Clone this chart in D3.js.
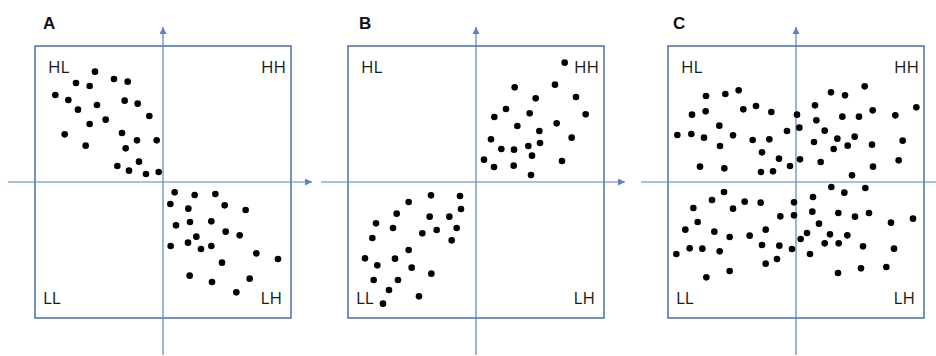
<!DOCTYPE html>
<html>
<head>
<meta charset="utf-8">
<script src="https://cdn.jsdelivr.net/npm/d3@7"></script>
<style>
  html, body { margin: 0; padding: 0; background: #fff; }
  svg { display: block; }
  .quad { font-family: "Open Sans", "Liberation Sans", sans-serif; font-size: 17px; fill: #1a1a1a; }
  .panel { font-family: "Liberation Sans", Arial, sans-serif; font-size: 17px; font-weight: bold; fill: #111; }
</style>
</head>
<body>
<svg id="chart" width="936" height="356"></svg>
<script>
// quadrant scatter values, x = own value, y = neighbours (units of the drawing grid)
const XMAX = 384;
const YMAX = 408;

const panelNames = ['A', 'B', 'C'];
const quadLabels = ['HL', 'HH', 'LL', 'LH'];

const pointsA = [
  [-204, 331], [-261, 297], [-220, 288], [-147, 309], [-106, 301], [-323, 261],
  [-284, 246], [-198, 231], [-115, 244], [-76, 235], [-255, 217], [-41, 198],
  [-220, 174], [-172, 187], [-295, 143], [-123, 147], [-78, 125], [-19, 125],
  [-232, 109], [-112, 101], [-137, 48], [-72, 61], [-102, 34], [-51, 24], [-13, 30],
  [35, -31], [95, -39], [157, -36], [22, -66], [76, -80], [185, -70], [248, -84],
  [39, -130], [81, -120], [145, -118], [188, -149], [230, -160], [100, -164],
  [23, -192], [75, -182], [114, -201], [145, -192], [280, -214], [345, -231],
  [177, -242], [80, -281], [147, -300], [260, -290], [220, -331]
];

const pointsB = [
  [266, 358], [116, 284], [237, 292], [179, 251], [300, 255], [90, 219],
  [55, 195], [161, 206], [329, 203], [124, 168], [242, 176], [190, 153],
  [45, 128], [287, 133], [76, 99], [114, 97], [157, 108], [192, 117],
  [168, 79], [24, 67], [54, 45], [113, 49], [258, 63], [165, 21],
  [-135, -40], [-48, -42], [-202, -60], [-45, -81], [-238, -95], [-139, -104],
  [-80, -104], [-300, -124], [-249, -138], [-118, -144], [-58, -138], [-161, -154],
  [-311, -168], [-73, -175], [-202, -204], [-333, -229], [-243, -230], [-296, -250],
  [-193, -257], [-134, -275], [-307, -294], [-234, -294], [-261, -324], [-171, -343],
  [-279, -365]
];

const pointsC = [
  [-270, 258], [-212, 264], [-172, 275], [206, 287], [105, 269], [147, 260],
  [-312, 202], [-271, 212], [-158, 218], [-120, 228], [-74, 210], [3, 202],
  [57, 230], [61, 185], [139, 196], [189, 196], [230, 215], [298, 200],
  [361, 224], [-230, 169], [10, 163], [-27, 153], [86, 154], [-356, 141],
  [-314, 144], [-276, 133], [-189, 140], [-130, 126], [-80, 128], [54, 120],
  [124, 130], [176, 136], [113, 99], [155, 109], [228, 112], [320, 124],
  [-228, 108], [-102, 89], [-51, 70], [12, 68], [-18, 48], [-288, 46],
  [-215, 41], [-105, 30], [-69, 32], [74, 60], [231, 46], [308, 65], [168, 20],
  [106, -15], [145, -32], [208, -18], [-216, -30], [-252, -54], [51, -45],
  [-6, -61], [-154, -59], [-106, -62], [-308, -78], [-189, -80], [49, -89],
  [127, -93], [219, -93], [-47, -103], [-6, -100], [177, -104], [-295, -120],
  [69, -125], [285, -122], [351, -110], [-332, -143], [-245, -149], [-91, -143],
  [33, -153], [-199, -165], [-139, -161], [14, -171], [102, -157], [154, -160],
  [-102, -189], [-50, -191], [-12, -201], [86, -184], [128, -184], [201, -193],
  [294, -200], [-359, -216], [-319, -199], [-281, -200], [-229, -208], [42, -216],
  [-91, -245], [-57, -231], [-199, -267], [-269, -286], [126, -273], [195, -259],
  [271, -255]
];

const panelData = [pointsA, pointsB, pointsC];
const panelLeft = [35, 348, 668];
const labelShift = [8, 11, 5];

const boxW = 256, boxTop = 46, boxH = 272;
const boxColor = '#4a70ac';
const axisColor = '#5b82c2';

const svg = d3.select('#chart');

const defs = svg.append('defs');
defs.append('marker')
  .attr('id', 'arrow')
  .attr('viewBox', '0 0 10 10')
  .attr('refX', 10)
  .attr('refY', 5)
  .attr('markerWidth', 7)
  .attr('markerHeight', 7)
  .attr('markerUnits', 'userSpaceOnUse')
  .attr('orient', 'auto')
  .append('path')
  .attr('d', 'M0,0 L10,5 L0,10 Z')
  .attr('fill', axisColor);

panelNames.forEach((name, i) => {
  const left = panelLeft[i];
  const x = d3.scaleLinear().domain([-XMAX, XMAX]).range([left, left + boxW]);
  const y = d3.scaleLinear().domain([-YMAX, YMAX]).range([boxTop + boxH, boxTop]);
  const g = svg.append('g');

  // frame
  g.append('rect')
    .attr('x', x(-XMAX))
    .attr('y', y(YMAX))
    .attr('width', boxW)
    .attr('height', boxH)
    .attr('fill', 'none')
    .attr('stroke', boxColor)
    .attr('stroke-width', 1.5);

  // axes through the origin
  g.append('line')
    .attr('x1', x(-XMAX) - 27).attr('x2', x(XMAX) + 21)
    .attr('y1', y(0)).attr('y2', y(0))
    .attr('stroke', axisColor)
    .attr('stroke-width', 1.2)
    .attr('marker-end', 'url(#arrow)');

  g.append('line')
    .attr('x1', x(0)).attr('x2', x(0))
    .attr('y1', y(-YMAX) + 37).attr('y2', y(YMAX) - 19)
    .attr('stroke', axisColor)
    .attr('stroke-width', 1.2)
    .attr('marker-end', 'url(#arrow)');

  // quadrant names
  const pos = [
    { x: x(-XMAX) + 13, y: y(YMAX) + 27, anchor: 'start' },
    { x: x(XMAX) - 5, y: y(YMAX) + 27, anchor: 'end' },
    { x: x(-XMAX) + 8, y: y(-YMAX) - 14, anchor: 'start' },
    { x: x(XMAX) - 9, y: y(-YMAX) - 14, anchor: 'end' },
  ];
  g.selectAll('.quad')
    .data(quadLabels)
    .join('text')
    .attr('class', 'quad')
    .attr('x', (d, k) => pos[k].x)
    .attr('y', (d, k) => pos[k].y)
    .attr('text-anchor', (d, k) => pos[k].anchor)
    .text((d) => d);

  g.append('text')
    .attr('class', 'panel')
    .attr('x', x(-XMAX) + labelShift[i])
    .attr('y', 29)
    .text(name);

  g.append('g')
    .selectAll('circle')
    .data(panelData[i])
    .join('circle')
    .attr('cx', (d) => x(d[0]))
    .attr('cy', (d) => y(d[1]))
    .attr('r', 3.3)
    .attr('fill', '#000');
});
</script>
</body>
</html>
